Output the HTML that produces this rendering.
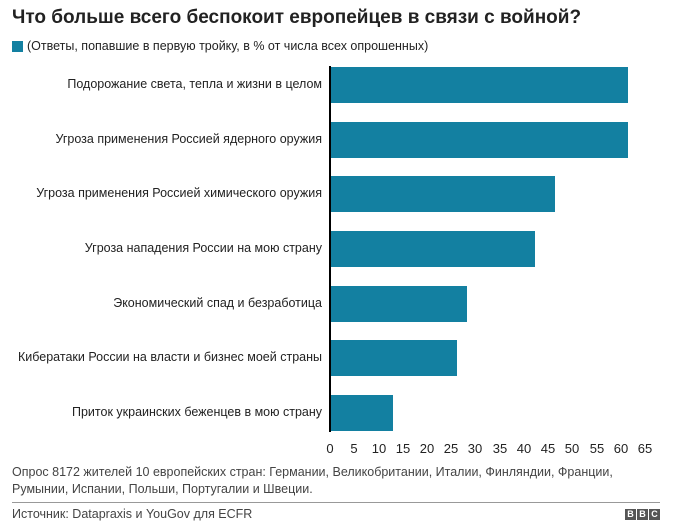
<!DOCTYPE html>
<html><head><meta charset="utf-8"><style>
body{margin:0;width:682px;height:529px;background:#fff;font-family:"Liberation Sans",Arial,sans-serif;position:relative;overflow:hidden;color:#222}
.a{position:absolute;white-space:nowrap}
.bar{position:absolute;left:331px;height:36px;background:#1380a1}
.lab{position:absolute;right:360px;font-size:12.5px;color:#222;white-space:nowrap}
.t{position:absolute;top:441px;font-size:13px;width:30px;text-align:center;margin-left:-15px}
</style></head><body>
<div class="a" style="left:12px;top:7px;font-size:19px;font-weight:bold;color:#222">Что больше всего беспокоит европейцев в связи с войной?</div>
<div class="a" style="left:12px;top:41px;width:11px;height:11px;background:#1380a1"></div>
<div class="a" style="left:27px;top:39px;font-size:12.5px">(Ответы, попавшие в первую тройку, в % от числа всех опрошенных)</div>
<div class="a" style="left:329px;top:66px;width:2px;height:366px;background:#000"></div>
<div class="bar" style="top:67px;width:297px"></div>
<div class="bar" style="top:122px;width:297px"></div>
<div class="bar" style="top:176px;width:224px"></div>
<div class="bar" style="top:231px;width:204px"></div>
<div class="bar" style="top:286px;width:136px"></div>
<div class="bar" style="top:340px;width:126px"></div>
<div class="bar" style="top:395px;width:62px"></div>
<div class="lab" style="top:77px">Подорожание света, тепла и жизни в целом</div>
<div class="lab" style="top:132px">Угроза применения Россией ядерного оружия</div>
<div class="lab" style="top:186px">Угроза применения Россией химического оружия</div>
<div class="lab" style="top:241px">Угроза нападения России на мою страну</div>
<div class="lab" style="top:296px">Экономический спад и безработица</div>
<div class="lab" style="top:350px">Кибератаки России на власти и бизнес моей страны</div>
<div class="lab" style="top:405px">Приток украинских беженцев в мою страну</div>
<div class="t" style="left:330px">0</div><div class="t" style="left:354px">5</div><div class="t" style="left:379px">10</div><div class="t" style="left:403px">15</div><div class="t" style="left:427px">20</div><div class="t" style="left:451px">25</div><div class="t" style="left:475px">30</div><div class="t" style="left:500px">35</div><div class="t" style="left:524px">40</div><div class="t" style="left:548px">45</div><div class="t" style="left:572px">50</div><div class="t" style="left:597px">55</div><div class="t" style="left:621px">60</div><div class="t" style="left:645px">65</div>
<div class="a" style="left:12px;top:464px;font-size:12.5px;line-height:17px;color:#444">Опрос 8172 жителей 10 европейских стран: Германии, Великобритании, Италии, Финляндии, Франции,<br>Румынии, Испании, Польши, Португалии и Швеции.</div>
<div class="a" style="left:12px;top:502px;width:648px;height:1px;background:#999"></div>
<div class="a" style="left:12px;top:507px;font-size:12.5px;color:#444">Источник: Datapraxis и YouGov для ECFR</div>
<div class="a" style="left:625px;top:509px;display:flex;gap:1px">
<span style="width:11px;height:11px;background:#555;color:#fff;font-size:9px;font-weight:bold;text-align:center;line-height:11px">B</span><span style="width:11px;height:11px;background:#555;color:#fff;font-size:9px;font-weight:bold;text-align:center;line-height:11px">B</span><span style="width:11px;height:11px;background:#555;color:#fff;font-size:9px;font-weight:bold;text-align:center;line-height:11px">C</span></div>
</body></html>
